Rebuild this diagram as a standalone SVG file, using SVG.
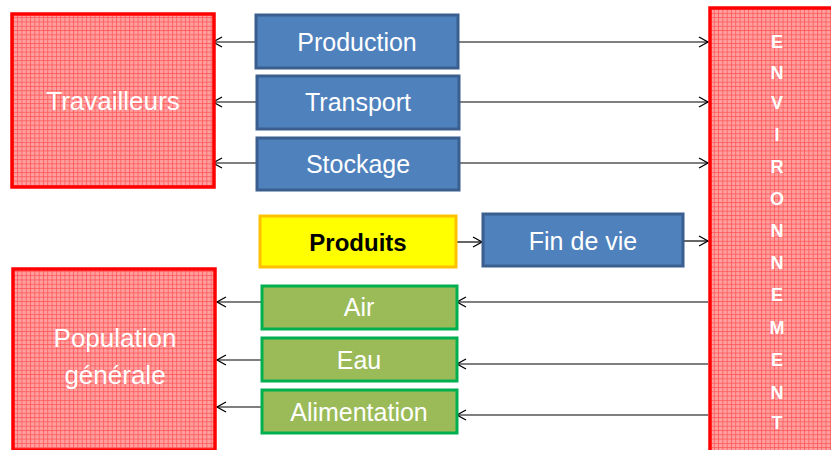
<svg xmlns="http://www.w3.org/2000/svg" width="831" height="450" viewBox="0 0 831 450">
<defs>
<pattern id="grid" width="4.3" height="4.3" patternUnits="userSpaceOnUse">
<rect width="4.3" height="4.3" fill="#FFA0A0"/>
<path d="M0,0.5 H4.3 M0.5,0 V4.3" stroke="#FF5555" stroke-width="0.8"/>
</pattern>
<marker id="arr" markerWidth="12" markerHeight="12" refX="10" refY="6" orient="auto" markerUnits="userSpaceOnUse">
<path d="M1,1 L10,6 L1,11" fill="none" stroke="#000" stroke-width="1.3"/>
</marker>
<style>
.red{fill:url(#grid);stroke:#FF0000;stroke-width:3.5}
.blue{fill:#4F81BD;stroke:#3A5F8E;stroke-width:3}
.green{fill:#9BBB59;stroke:#00B050;stroke-width:3}
.yellow{fill:#FFFF00;stroke:#FFC000;stroke-width:3}
.t{font-family:"Liberation Sans",Arial,sans-serif;fill:#fff;text-anchor:middle;dominant-baseline:central}
.big{font-size:25px}
.mid{font-size:23px}
.env{font-size:18px;font-weight:bold}
.c{stroke:#000;stroke-width:1.2;fill:none;marker-end:url(#arr)}
</style>
</defs>
<rect width="831" height="450" fill="#fff"/>
<g id="connectors">
<line class="c" x1="256" y1="42" x2="213" y2="42"/>
<line class="c" x1="459" y1="42" x2="708" y2="42"/>
<line class="c" x1="257" y1="102" x2="213" y2="102"/>
<line class="c" x1="460" y1="102" x2="708" y2="102"/>
<line class="c" x1="257" y1="163" x2="213" y2="163"/>
<line class="c" x1="460" y1="163" x2="708" y2="163"/>
<line class="c" x1="457" y1="242" x2="482" y2="242"/>
<line class="c" x1="684" y1="241" x2="708" y2="241"/>
<line class="c" x1="708" y1="302" x2="457" y2="302"/>
<line class="c" x1="261" y1="302" x2="217" y2="302"/>
<line class="c" x1="708" y1="364" x2="457" y2="364"/>
<line class="c" x1="261" y1="360" x2="217" y2="360"/>
<line class="c" x1="708" y1="415" x2="457" y2="415"/>
<line class="c" x1="261" y1="407" x2="217" y2="407"/>
</g>
<g id="travailleurs">
<rect class="red" x="12" y="14" width="202" height="173"/>
<text class="t big" x="113" y="101" style="font-size:26px">Travailleurs</text>
</g>
<g id="population">
<rect class="red" x="13" y="269" width="202" height="181"/>
<text class="t big" x="115" y="338" style="font-size:26px">Population</text>
<text class="t big" x="115" y="375" style="font-size:26px">générale</text>
</g>
<g id="environnement">
<rect class="red" x="710" y="8" width="125" height="445"/>
<text class="t env" x="777" y="42">E</text>
<text class="t env" x="777" y="73">N</text>
<text class="t env" x="777" y="103">V</text>
<text class="t env" x="777" y="135">I</text>
<text class="t env" x="777" y="167">R</text>
<text class="t env" x="777" y="199">O</text>
<text class="t env" x="777" y="231">N</text>
<text class="t env" x="777" y="263">N</text>
<text class="t env" x="777" y="295">E</text>
<text class="t env" x="777" y="328">M</text>
<text class="t env" x="777" y="360">E</text>
<text class="t env" x="777" y="393">N</text>
<text class="t env" x="777" y="423">T</text>
</g>
<g id="production">
<rect class="blue" x="256" y="15" width="202" height="53"/>
<text class="t big" x="357" y="42">Production</text>
</g>
<g id="transport">
<rect class="blue" x="257" y="76" width="202" height="53"/>
<text class="t big" x="358" y="102">Transport</text>
</g>
<g id="stockage">
<rect class="blue" x="257" y="138" width="202" height="52"/>
<text class="t big" x="358" y="164">Stockage</text>
</g>
<g id="produits">
<rect class="yellow" x="260" y="216" width="196" height="51"/>
<text class="t mid" x="358" y="242" style="fill:#000;font-weight:bold;font-size:24px">Produits</text>
</g>
<g id="findevie">
<rect class="blue" x="483" y="214" width="200" height="52"/>
<text class="t big" x="583" y="241">Fin de vie</text>
</g>
<g id="air">
<rect class="green" x="262" y="286" width="195" height="43"/>
<text class="t big" x="359" y="307">Air</text>
</g>
<g id="eau">
<rect class="green" x="262" y="338" width="195" height="43"/>
<text class="t big" x="359" y="360">Eau</text>
</g>
<g id="alimentation">
<rect class="green" x="262" y="390" width="195" height="43"/>
<text class="t big" x="359" y="412">Alimentation</text>
</g>
</svg>
